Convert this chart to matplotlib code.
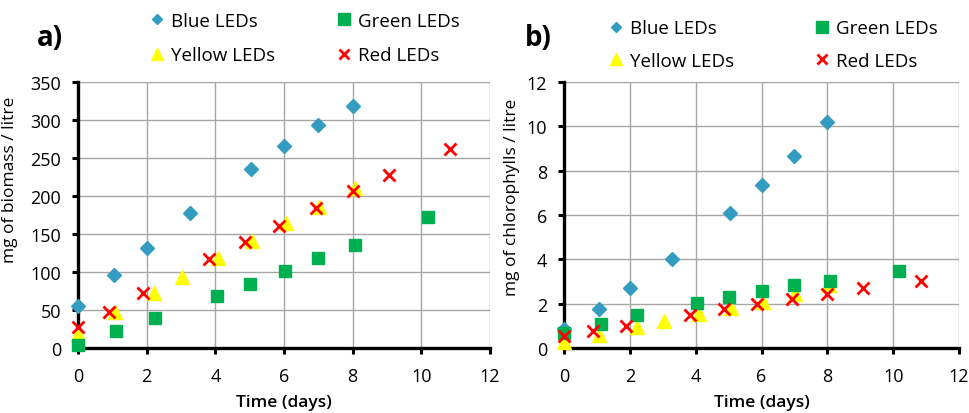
import matplotlib
matplotlib.use("Agg")
import matplotlib.pyplot as plt
from matplotlib.lines import Line2D
from matplotlib.legend import Legend

plt.rcParams['font.family'] = ['Open Sans', 'DejaVu Sans']

# sampling times (days) for each LED colour
blue_days = [0, 1.05, 2.0, 3.27, 5.03, 6.01, 7.0, 8.0]
green_days = [0, 1.11, 2.23, 4.04, 5.0, 6.02, 7.0, 8.07, 10.18]
yellow_days = [0, 1.07, 2.21, 3.03, 4.09, 5.07, 6.05, 7.03, 8.06]
red_days = [0, 0.89, 1.89, 3.83, 4.87, 5.86, 6.93, 8.0, 9.07, 10.84]

# a) biomass, mg / litre
blue_bio = [55, 96, 132, 178, 236, 266, 293, 319]
green_bio = [4, 22, 39, 68, 84, 101, 118, 136, 172]
yellow_bio = [19, 47, 73, 93, 119, 141, 164, 186, 210]
red_bio = [28, 48, 72, 117, 140, 161, 184, 206, 228, 262]

# b) chlorophylls, mg / litre
blue_chl = [0.87, 1.77, 2.7, 4.01, 6.08, 7.36, 8.66, 10.19]
green_chl = [0.67, 1.09, 1.47, 2.04, 2.29, 2.56, 2.85, 3.04, 3.49]
yellow_chl = [0.27, 0.57, 0.94, 1.2, 1.54, 1.8, 2.07, 2.44, 2.82]
red_chl = [0.54, 0.75, 0.99, 1.5, 1.74, 1.99, 2.22, 2.44, 2.7, 3.04]

series_names = ['Blue LEDs', 'Green LEDs', 'Yellow LEDs', 'Red LEDs']

BLUE = '#339CC0'
GREEN = '#00B050'
YELLOW = '#FFFF00'
RED = '#FF0000'

W, H = 970, 414
fig = plt.figure(figsize=(W / 100, H / 100), dpi=100)


def px_axes(x0, x1, y0, y1):
    # axes rectangle given in pixel coords (origin top-left)
    return fig.add_axes([x0 / W, 1 - y1 / H, (x1 - x0) / W, (y1 - y0) / H])


def style_axes(ax, ymax, ystep):
    ax.set_xlim(0, 12)
    ax.set_ylim(0, ymax)
    ax.set_xticks(range(0, 13, 2))
    ax.set_yticks([v * ystep for v in range(int(ymax / ystep) + 1)])
    ax.grid(True, color='#A6A6A6', linewidth=1.0)
    ax.set_axisbelow(True)
    for s in ['top', 'right']:
        ax.spines[s].set_visible(False)
    for s in ['left', 'bottom']:
        ax.spines[s].set_linewidth(2.4)
        ax.spines[s].set_color('black')
    ax.tick_params(direction='out', length=4, width=2.2, labelsize=13)
    ax.tick_params(axis='x', pad=10)
    ax.tick_params(axis='y', pad=8)


def draw_series(ax, blue, green, yellow, red):
    ax.plot(blue_days, blue, linestyle='none', marker='D', ms=7.2,
            color=BLUE, mec=BLUE, zorder=3, clip_on=False)
    ax.plot(yellow_days, yellow, linestyle='none', marker='^', ms=10,
            color=YELLOW, mec=YELLOW, zorder=4, clip_on=False)
    ax.plot(green_days, green, linestyle='none', marker='s', ms=8.8,
            color=GREEN, mec=GREEN, zorder=5, clip_on=False)
    ax.plot(red_days, red, linestyle='none', marker='x', ms=8.5, mew=2.0,
            color=RED, zorder=6, clip_on=False)


def add_legend(ax, x_cols, y_mid, spacing):
    handles = [
        Line2D([], [], linestyle='none', marker='D', ms=5.5, color=BLUE),
        Line2D([], [], linestyle='none', marker='s', ms=8, color=GREEN),
        Line2D([], [], linestyle='none', marker='^', ms=9, color=YELLOW),
        Line2D([], [], linestyle='none', marker='x', ms=7.5, mew=2.0, color=RED),
    ]
    cols = [[0, 2], [1, 3]]
    for xc, idx in zip(x_cols, cols):
        leg = Legend(ax, [handles[i] for i in idx], [series_names[i] for i in idx],
                     loc='center left', bbox_to_anchor=(xc / W, 1 - y_mid / H),
                     bbox_transform=fig.transFigure, frameon=False, fontsize=13.5,
                     handlelength=1.0, handletextpad=0.25, borderpad=0,
                     borderaxespad=0, labelspacing=spacing, numpoints=1)
        ax.add_artist(leg)


# a) biomass
ax1 = px_axes(78, 490, 83, 349)
style_axes(ax1, 350, 50)
draw_series(ax1, blue_bio, green_bio, yellow_bio, red_bio)
ax1.set_ylabel('mg of biomass / litre', fontsize=12.5)
ax1.yaxis.set_label_coords(-0.146, 0.635)
ax1.set_xlabel('Time (days)', fontsize=12.5, fontweight='semibold')
ax1.xaxis.set_label_coords(0.5, -0.203)
ax1.xaxis.label.set_va('center')
add_legend(ax1, [148, 335], 39, 0.87)
fig.text(50 / W, 1 - 38 / H, 'a)', fontsize=20, fontweight='bold',
         ha='center', va='center')

# b) chlorophylls
ax2 = px_axes(564, 959, 83, 349)
style_axes(ax2, 12, 2)
draw_series(ax2, blue_chl, green_chl, yellow_chl, red_chl)
ax2.set_ylabel('mg of chlorophylls / litre', fontsize=12.5)
ax2.yaxis.set_label_coords(-0.111, 0.571)
ax2.set_xlabel('Time (days)', fontsize=12.5, fontweight='semibold')
ax2.xaxis.set_label_coords(0.5, -0.203)
ax2.xaxis.label.set_va('center')
add_legend(ax2, [607, 813], 45.5, 0.77)
fig.text(538 / W, 1 - 39 / H, 'b)', fontsize=20, fontweight='bold',
         ha='center', va='center')

fig.savefig('out.png', dpi=100, facecolor='white')
